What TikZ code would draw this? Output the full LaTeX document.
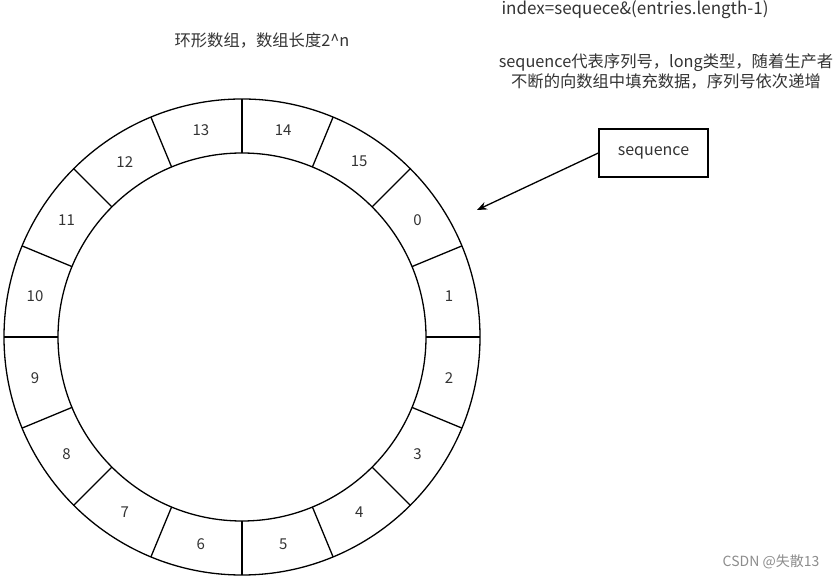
\documentclass[tikz,border=0pt]{standalone}
\usepackage{fontspec}
\setmainfont{Noto Sans CJK SC}
\usetikzlibrary{arrows.meta,calc}
\tikzset{lbl/.style={font=\fontsize{15}{17}\selectfont,text=black!80}}
\begin{document}
\begin{tikzpicture}[x=1pt,y=1pt]
		\useasboundingbox (0,0) rectangle (837,578);
		\coordinate (O) at (242,241);
		% ring
		\draw [line width=1.3] (O) circle (238);
		\draw [line width=1.3] (O) circle (184);
		\foreach \k in {0,...,15} {
			\draw [line width=1.3] ($(O)+(22.5*\k:184)$) -- ($(O)+(22.5*\k:238)$);
		}
		\foreach \n [count=\i from 0] in {14,15,0,1,2,3,4,5,6,7,8,9,10,11,12,13} {
			\node[lbl] (s\n) at ($(O)+(78.75-22.5*\i:211)$) {\n};
		}
		% texts
		\node[lbl,font=\fontsize{16.3}{21}\selectfont] (title) at (262,538) {环形数组，数组长度2\textasciicircum n};
		\node[lbl,font=\fontsize{17}{20}\selectfont] (idx) at (635,568) {index=sequece\&(entries.length-1)};
		\node[lbl,font=\fontsize{16.3}{20}\selectfont,align=center] (desc) at (666,507) {sequence代表序列号，long类型，随着生产者\\不断的向数组中填充数据，序列号依次递增};
		\node[draw,line width=1.3,minimum width=109,minimum height=48,lbl,font=\fontsize{16}{18}\selectfont] (seq) at (653.5,425) {sequence};
		\coordinate (tip) at (477,368);
		\draw [line width=1.3,-{Stealth[length=10pt,width=8pt]}] (seq.west) -- (tip);
		\node[text=black!45,font=\fontsize{14}{16}\selectfont] (wm) at (771,16) {CSDN @失散13};
	\end{tikzpicture}
\end{document}
